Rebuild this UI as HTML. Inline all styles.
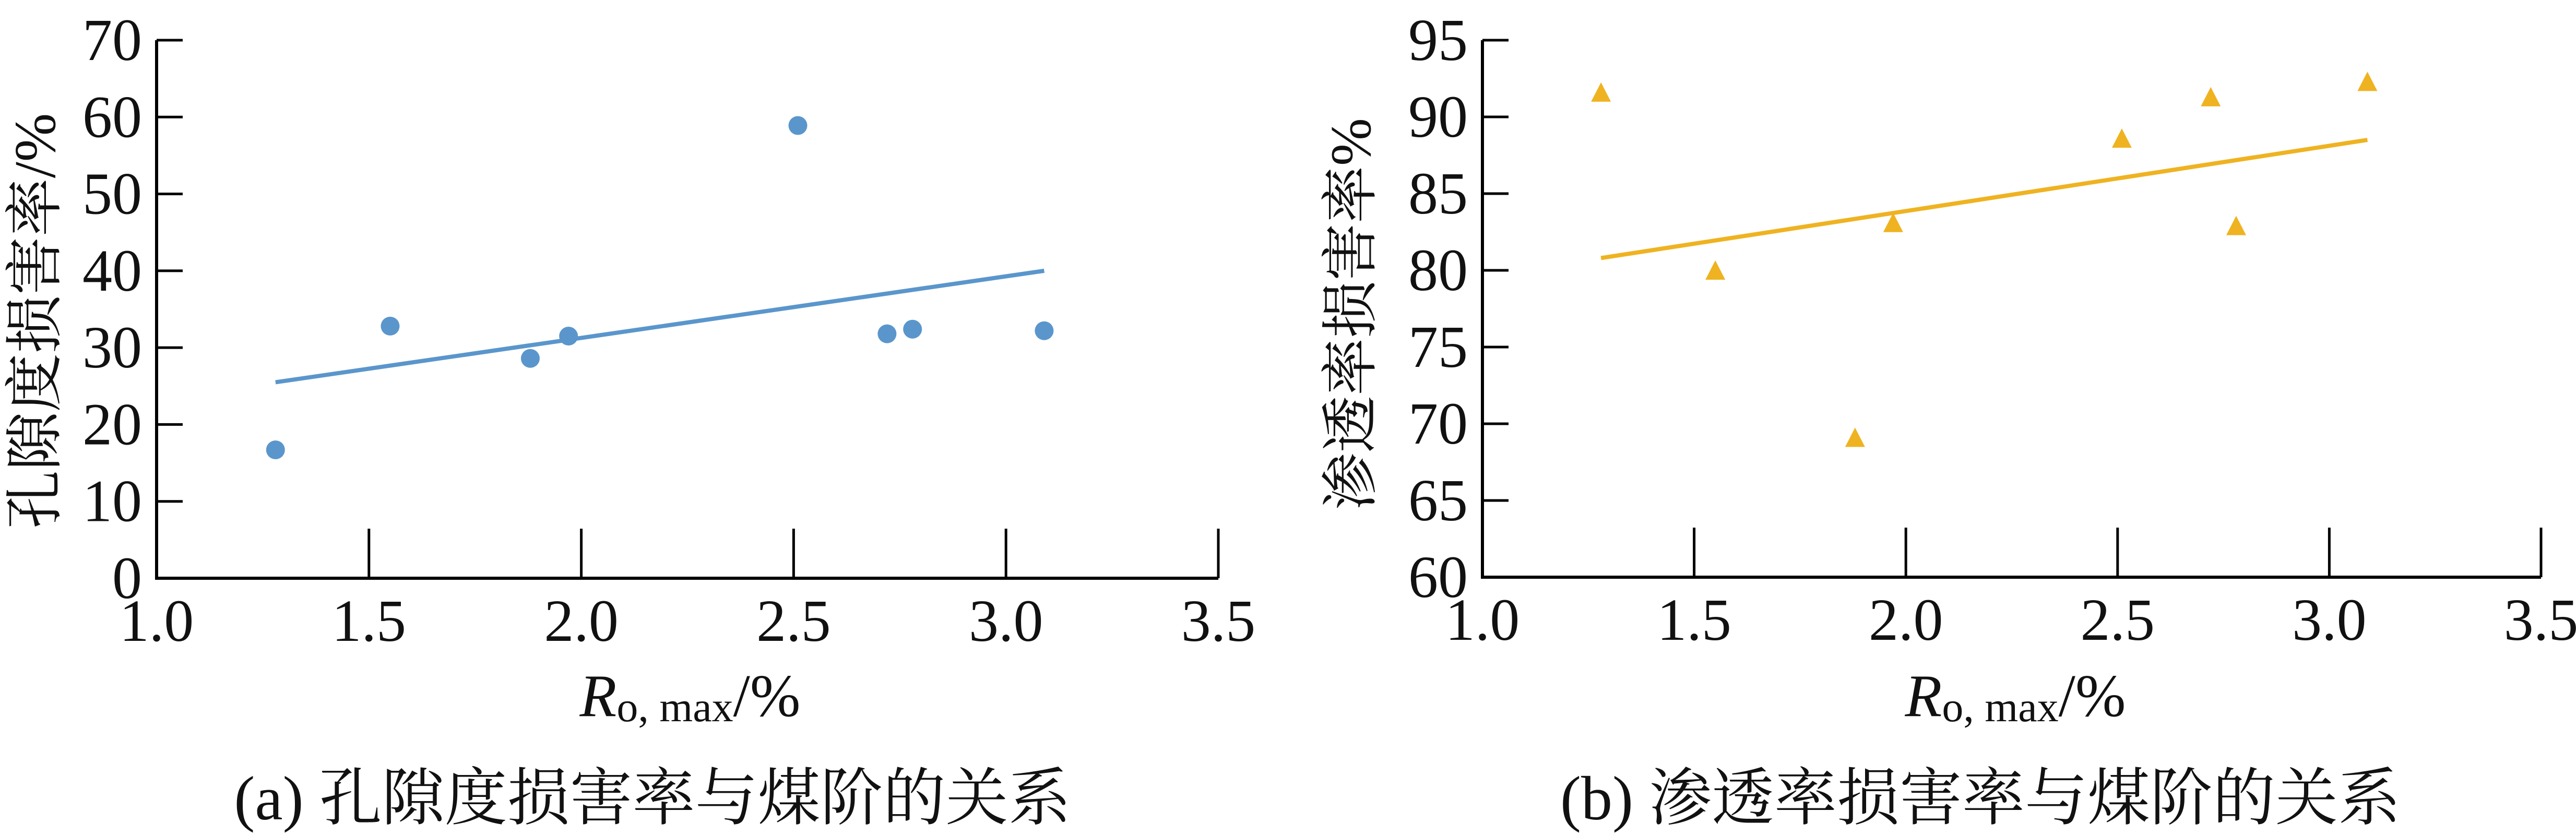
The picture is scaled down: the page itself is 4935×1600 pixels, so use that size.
<!DOCTYPE html>
<html><head><meta charset="utf-8"><style>
html,body{margin:0;padding:0;background:#fff;}
svg{display:block;}
text{font-family:"Liberation Serif","Noto Serif CJK SC",serif;fill:#111;}
</style></head><body>
<svg id="fig" width="4935" height="1600" viewBox="0 0 4935 1600" xmlns="http://www.w3.org/2000/svg"></svg>
<script>
const xCats = [1.28, 1.55, 1.88, 1.97, 2.51, 2.72, 2.78, 3.09];
const porosityLoss = [16.7, 32.8, 28.6, 31.5, 58.9, 31.8, 32.4, 32.2];
const permLoss = [91.5, 79.9, 69.0, 83.0, 88.5, 91.2, 82.8, 92.2];
const trendA = [[1.28, 25.5], [3.09, 40.0]];
const trendB = [[1.28, 80.8], [3.09, 88.5]];
const xTicks = [1.0, 1.5, 2.0, 2.5, 3.0, 3.5];
const yTicksA = [0, 10, 20, 30, 40, 50, 60, 70];
const yTicksB = [60, 65, 70, 75, 80, 85, 90, 95];

const NS = "http://www.w3.org/2000/svg";
const svg = document.getElementById('fig');
function mk(tag, attrs, parent) {
  const e = document.createElementNS(NS, tag);
  for (const k in attrs) e.setAttribute(k, attrs[k]);
  (parent || svg).appendChild(e);
  return e;
}
function panel(cfg) {
  const g = mk('g', {});
  
  
  const sx = v => cfg.L + (v - 1.0) / 2.5 * (cfg.R - cfg.L);
  const sy = v => cfg.B - (v - cfg.ymin) / (cfg.ymax - cfg.ymin) * (cfg.B - cfg.T);
  const ax = mk('path', {d: `M${cfg.L},${cfg.T} V${cfg.B} H${cfg.R}`, fill: 'none', stroke: '#000', 'stroke-width': 6}, g);
  
  
  cfg.yTicks.forEach(v => {
    mk('line', {x1: cfg.L, x2: cfg.L + 50, y1: sy(v), y2: sy(v), stroke: '#000', 'stroke-width': 5}, g);
    const t = mk('text', {x: cfg.L - 28, y: sy(v) + 38, 'text-anchor': 'end', 'font-size': 114}, g);
    t.textContent = String(v);
    
    
  });
  xTicks.forEach(v => {
    mk('line', {x1: sx(v), x2: sx(v), y1: cfg.B, y2: cfg.B - 95, stroke: '#000', 'stroke-width': 5}, g);
    const t = mk('text', {x: sx(v), y: cfg.B + 120, 'text-anchor': 'middle', 'font-size': 114}, g);
    t.textContent = v.toFixed(1);
    
    
  });
  const tl = mk('line', {x1: sx(cfg.trend[0][0]), y1: sy(cfg.trend[0][1]), x2: sx(cfg.trend[1][0]), y2: sy(cfg.trend[1][1]), stroke: cfg.color, 'stroke-width': 8}, g);
  
  
  xCats.forEach((x, i) => {
    const px = sx(x), py = sy(cfg.vals[i]);
    let m;
    if (cfg.marker === 'circle') m = mk('circle', {cx: px, cy: py, r: 18, fill: cfg.color}, g);
    else m = mk('polygon', {points: `${px},${py-22} ${px-19},${py+15} ${px+19},${py+15}`, fill: cfg.color}, g);
    
    
  });
  const xt = mk('text', {x: cfg.xTitleX, y: 1372, 'text-anchor': 'middle', 'font-size': 116}, g);
  xt.innerHTML = '<tspan font-style="italic">R</tspan><tspan font-size="82" dy="10">o, max</tspan><tspan dy="-10">/%</tspan>';
  
  
  const yt = mk('text', {x: 0, y: 0, 'text-anchor': 'middle', 'font-size': cfg.yTitleSize, transform: `translate(${cfg.yTitleX},${cfg.yTitleY}) rotate(-90)`}, g);
  yt.textContent = cfg.yTitle;
  
  
  const cap = mk('text', {x: cfg.capX, y: 1570, 'text-anchor': 'middle', 'font-size': 120}, g);
  cap.textContent = cfg.caption;
  
  
}
panel({id: 'porosity', L: 300, R: 2334, T: 77, B: 1108, ymin: 0, ymax: 70, yTicks: yTicksA,
  vals: porosityLoss, trend: trendA, color: '#5a96cc', marker: 'circle',
  xTitleX: 1322, yTitleX: 105, yTitleY: 615, yTitleSize: 112, yTitle: '孔隙度损害率/%', capX: 1250,
  caption: '(a)  孔隙度损害率与煤阶的关系'});
panel({id: 'permeability', L: 2840, R: 4868, T: 77, B: 1106, ymin: 60, ymax: 95, yTicks: yTicksB,
  vals: permLoss, trend: trendB, color: '#efb321', marker: 'triangle',
  xTitleX: 3861, yTitleX: 2625, yTitleY: 602, yTitleSize: 110, yTitle: '渗透率损害率%', capX: 3794,
  caption: '(b)  渗透率损害率与煤阶的关系'});
</script>
</body></html>
